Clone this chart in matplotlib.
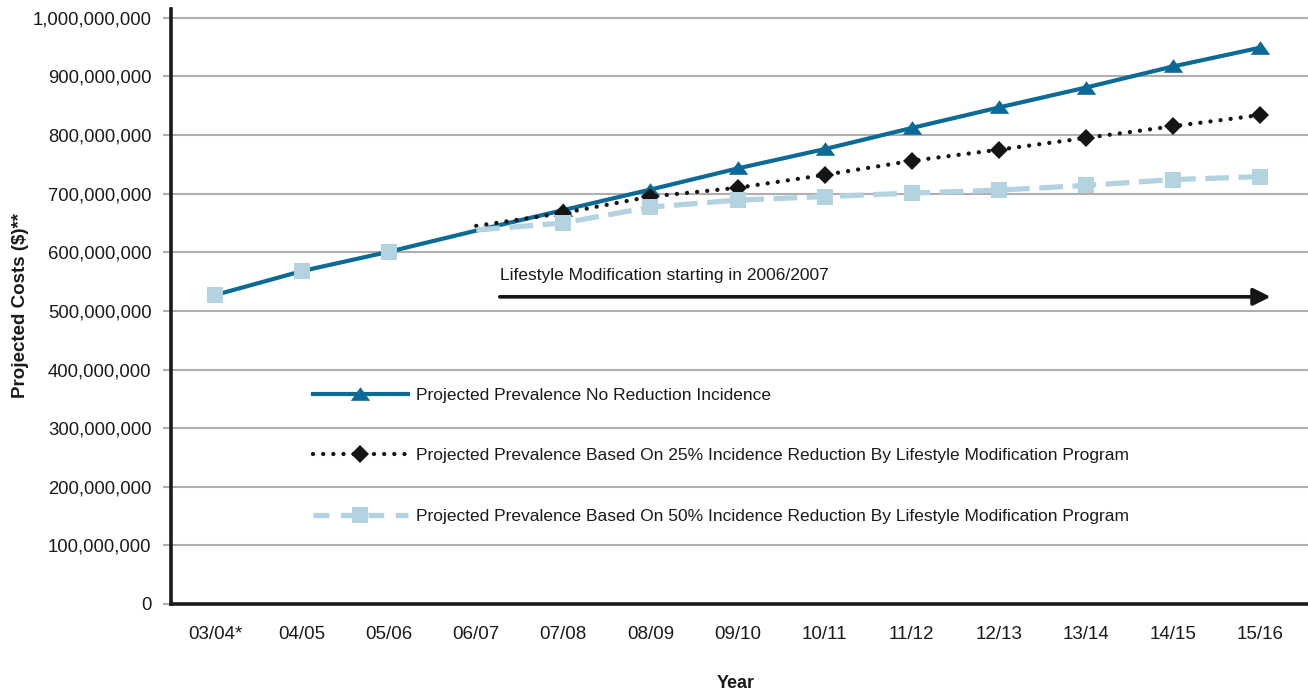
import matplotlib
matplotlib.use("Agg")
import matplotlib.pyplot as plt
import matplotlib.ticker as mticker
import numpy as np

plt.rcParams['font.family'] = ['Liberation Sans', 'DejaVu Sans']

years = ["03/04*", "04/05", "05/06", "06/07", "07/08", "08/09", "09/10",
         "10/11", "11/12", "12/13", "13/14", "14/15", "15/16"]

# projected costs, millions of dollars
no_reduction = [527, 568, 601, 637, 672, 707, 743, 776, 812, 847, 881, 917, 949]
reduction_25 = [np.nan, np.nan, np.nan, 645, 667, 695, 710, 732, 756, 775, 795, 815, 834]
reduction_50 = [527, 568, 601, 638, 650, 677, 689, 695, 701, 706, 714, 724, 729]

labels = ["Projected Prevalence No Reduction Incidence",
          "Projected Prevalence Based On 25% Incidence Reduction By Lifestyle Modification Program",
          "Projected Prevalence Based On 50% Incidence Reduction By Lifestyle Modification Program"]

DARK_BLUE = "#0B6A96"
LIGHT_BLUE = "#B2D3DF"
GRID = "#B0AEAE"
INK = "#1a1a1a"

x = np.arange(len(years))
y0 = np.array(no_reduction) * 1e6
y25 = np.array(reduction_25) * 1e6
y50 = np.array(reduction_50) * 1e6
tri = [(-1, -0.65), (1, -0.65), (0, 0.75), (-1, -0.65)]
marks = list(range(4, 13))

fig = plt.figure(figsize=(13.08, 6.95), dpi=100)
ax = fig.add_axes([171 / 1308, 1 - 604 / 695, 1 - 171 / 1308, (604 - 9) / 695])

ax.plot(x, y0, color=DARK_BLUE, lw=3.0, marker=tri, ms=14, mec=DARK_BLUE, mew=0,
        markevery=marks, label=labels[0], zorder=3)
ax.plot(x, y25, color="#151515", lw=3.1, linestyle=(0, (0.01, 2.35)),
        dash_capstyle='round', marker='D', ms=9.5, mec="#151515", mew=0,
        markevery=marks, label=labels[1], zorder=4)
# the 50% line only leaves the base line at 06/07; earlier points are just markers
ax.plot(x[3:], y50[3:], color=LIGHT_BLUE, lw=3.8, linestyle=(0, (4.5, 1.8)),
        zorder=5)
ax.plot(x, y50, color=LIGHT_BLUE, lw=0, marker='s', ms=11, mec=LIGHT_BLUE, mew=0,
        markevery=[0, 1, 2] + marks, zorder=5)
legend_50, = ax.plot([], [], color=LIGHT_BLUE, lw=3.8, linestyle=(0, (3, 2.2)),
                     marker='s', ms=11, mew=0)

ax.set_xlim(-0.505, 12.55)
ax.set_ylim(0, 1.015e9)
ax.set_yticks(np.arange(0, 1.0e9 + 1, 1e8))
ax.yaxis.set_major_formatter(mticker.FuncFormatter(lambda v, p: f"{v:,.0f}"))
ax.set_xticks(x)
ax.set_xticklabels(years)

ax.grid(axis='y', color=GRID, lw=1.5, zorder=0)
ax.set_axisbelow(True)
for side in ['top', 'right']:
    ax.spines[side].set_visible(False)
for side in ['left', 'bottom']:
    ax.spines[side].set_linewidth(2.6)
    ax.spines[side].set_color(INK)

ax.tick_params(axis='y', length=6, width=1.5, color=GRID, labelsize=13.3,
               labelcolor=INK, pad=8)
ax.tick_params(axis='x', length=0, labelsize=13.5, labelcolor=INK, pad=16)

ax.set_xlabel("Year", fontsize=13, fontweight='bold', color=INK, va='center')
ax.set_ylabel("Projected Costs ($)**", fontsize=13.5, fontweight='bold', color=INK,
              va='center')
ax.xaxis.set_label_coords((736 - 171) / 1137, -(684 - 604) / 595)
ax.yaxis.set_label_coords(-(171 - 21) / 1137, (604 - 305) / 595)

ax.annotate("", xy=(12.12, 524e6), xytext=(3.27, 524e6),
            arrowprops=dict(arrowstyle='-|>', lw=2.6, color="#151515",
                            mutation_scale=26, shrinkA=0, shrinkB=0))
ax.text(3.27, 561e6, "Lifestyle Modification starting in 2006/2007",
        fontsize=12.5, va='center', ha='left', color=INK)

handles = ax.get_lines()[:2] + [legend_50]
leg = ax.legend(handles, labels, loc='upper left',
                bbox_to_anchor=(313 / 1308, 1 - 388 / 695),
                bbox_transform=fig.transFigure, frameon=False, fontsize=12.5,
                handlelength=5.45, handletextpad=0.5, labelspacing=2.6,
                borderpad=0, borderaxespad=0, numpoints=1)
for t in leg.get_texts():
    t.set_color(INK)

fig.savefig("out.png", dpi=100)
